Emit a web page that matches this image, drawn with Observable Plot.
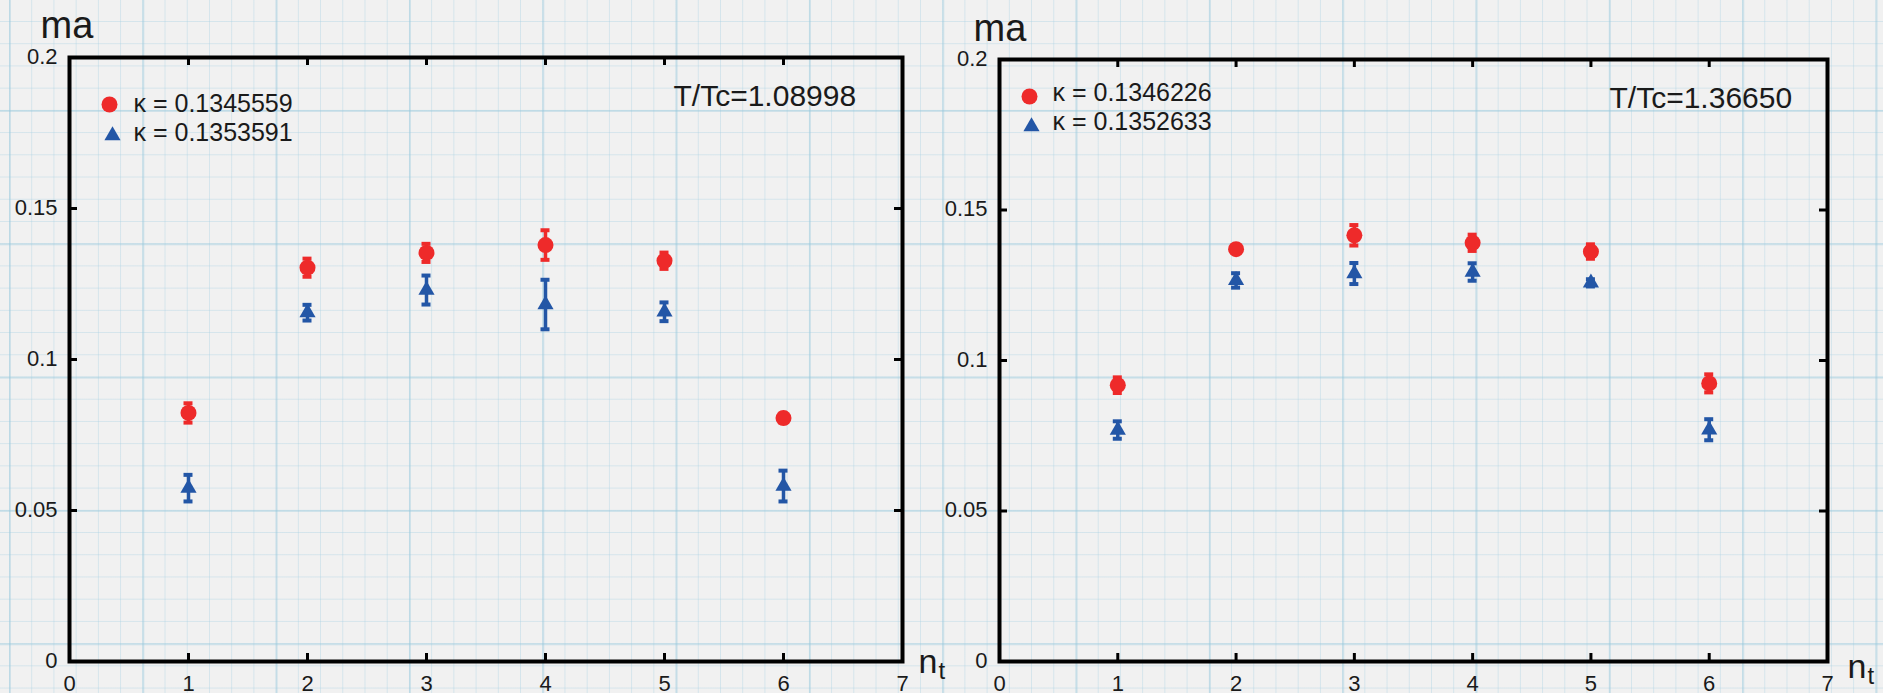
<!DOCTYPE html>
<html>
<head>
<meta charset="utf-8">
<script src="https://cdn.jsdelivr.net/npm/d3@7"></script>
<script src="https://cdn.jsdelivr.net/npm/@observablehq/plot@0.6"></script>
<style>
html, body { margin: 0; padding: 0; }
body {
  width: 1883px; height: 693px; overflow: hidden; position: relative;
  background-color: #f1f1f1;
  background-image:
    linear-gradient(to right, rgba(150, 200, 220, 0.38) 2px, transparent 2px),
    linear-gradient(to bottom, rgba(150, 200, 220, 0.38) 2px, transparent 2px),
    linear-gradient(to right, rgba(160, 205, 225, 0.35) 1px, transparent 1px),
    linear-gradient(to bottom, rgba(160, 205, 225, 0.35) 1px, transparent 1px);
  background-size: 133.33px 133.33px, 133.33px 133.33px, 22.22px 22.22px, 22.22px 22.22px;
  background-position: 9px 0, 0 110px, 9px 0, 0 21px;
}
.panel { position: absolute; top: 0; }
#left { left: 0; }
#right { left: 941px; }
</style>
</head>
<body>
<div id="left" class="panel"></div>
<div id="right" class="panel"></div>
<script>
// ---- data ----
const nt = [1, 2, 3, 4, 5, 6];
const xTicks = [0, 1, 2, 3, 4, 5, 6, 7];
const xTickLabels = ["0", "1", "2", "3", "4", "5", "6", "7"];
const xInnerTicks = [1, 2, 3, 4, 5, 6];
const yTicks = [0, 0.05, 0.1, 0.15, 0.2];
const yTickLabels = ["0", "0.05", "0.1", "0.15", "0.2"];
const yInnerTicks = [0.05, 0.1, 0.15];

// left panel: T/Tc = 1.08998
const leftTemp = "T/Tc=1.08998";
const leftKappa = ["κ = 0.1345559", "κ = 0.1353591"];
const leftRed = [0.0823, 0.1304, 0.1353, 0.1379, 0.1327, 0.0806];
const leftRedErr = [0.0032, 0.0030, 0.0030, 0.0049, 0.0027, 0.0015];
const leftBlue = [0.0574, 0.1155, 0.1230, 0.1182, 0.1158, 0.0581];
const leftBlueErr = [0.0044, 0.0026, 0.0048, 0.0082, 0.0031, 0.0051];

// right panel: T/Tc = 1.36650
const rightTemp = "T/Tc=1.36650";
const rightKappa = ["κ = 0.1346226", "κ = 0.1352633"];
const rightRed = [0.0918, 0.1370, 0.1416, 0.1391, 0.1362, 0.0924];
const rightRedErr = [0.0026, 0.0012, 0.0034, 0.0027, 0.0024, 0.0030];
const rightBlue = [0.0769, 0.1266, 0.1289, 0.1294, 0.1258, 0.0770];
const rightBlueErr = [0.0029, 0.0024, 0.0035, 0.0029, 0.0012, 0.0035];

const yLabel = "ma";
const xLabel = "n";
const xLabelSub = "t";

const RED = "#ee2a2a";
const BLUE = "#2356a6";
const INK = "#1a1a1a";
const FONT = "'Liberation Sans', Arial, Helvetica, sans-serif";

function panel(cfg) {
  const H = 693;
  const innerW = cfg.width - cfg.mL - cfg.mR;
  const innerH = H - cfg.mT - cfg.mB;
  const series = [
    {name: cfg.kappa[0], values: cfg.red, errs: cfg.redErr, color: RED, symbol: "circle", r: 8},
    {name: cfg.kappa[1], values: cfg.blue, errs: cfg.blueErr, color: BLUE, symbol: "triangle", r: 6}
  ];
  const marks = [];
  series.forEach((s, si) => {
    const rows = nt.map((n, i) => ({n, v: s.values[i], e: s.errs[i]}));
    marks.push(
      Plot.ruleX(rows, {x: "n", y1: d => d.v - d.e, y2: d => d.v + d.e, stroke: s.color, strokeWidth: 3.5}),
      Plot.ruleY(rows, {y: d => d.v + d.e, x1: "n", x2: "n", insetLeft: -4.5, insetRight: -4.5, stroke: s.color, strokeWidth: 4}),
      Plot.ruleY(rows, {y: d => d.v - d.e, x1: "n", x2: "n", insetLeft: -4.5, insetRight: -4.5, stroke: s.color, strokeWidth: 4}),
      Plot.dot(rows, {x: "n", y: "v", fill: s.color, stroke: "none", r: s.r, symbol: s.symbol})
    );
    const L = cfg.legend[si];
    marks.push(
      Plot.dot([s.name], {frameAnchor: "top-left", dx: L.sx, dy: L.sy, r: s.r, symbol: s.symbol, fill: s.color, stroke: "none"}),
      Plot.text([s.name], {frameAnchor: "top-left", dx: cfg.legendTextDx, dy: L.ty, text: d => d,
        textAnchor: "start", lineAnchor: "bottom", fontSize: 25, fill: INK})
    );
  });
  marks.push(
    Plot.frame({stroke: "black", strokeWidth: 4}),
    Plot.tickX(xInnerTicks, {x: d => d, insetTop: innerH - 8, stroke: "black", strokeWidth: 3}),
    Plot.tickX(xInnerTicks, {x: d => d, insetBottom: innerH - 8, stroke: "black", strokeWidth: 3}),
    Plot.tickY(yInnerTicks, {y: d => d, insetRight: innerW - 8, stroke: "black", strokeWidth: 3}),
    Plot.tickY(yInnerTicks, {y: d => d, insetLeft: innerW - 8, stroke: "black", strokeWidth: 3}),
    Plot.text(yTicks, {y: d => d, text: (d, i) => yTickLabels[i], frameAnchor: "left", textAnchor: "end",
      lineAnchor: "middle", dx: -12, dy: -1, fontSize: 22, fill: INK}),
    Plot.text(xTicks, {x: d => d, text: (d, i) => xTickLabels[i], frameAnchor: "bottom", textAnchor: "middle",
      lineAnchor: "top", dy: 14, fontSize: 22, fill: INK}),
    Plot.text([yLabel], {frameAnchor: "top-left", dx: cfg.maDx, dy: cfg.maDy, text: d => d,
      textAnchor: "start", lineAnchor: "bottom", fontSize: 38, fill: INK}),
    Plot.text([xLabel], {frameAnchor: "bottom-right", dx: cfg.nDx, dy: cfg.nDy, text: d => d,
      textAnchor: "start", lineAnchor: "bottom", fontSize: 34, fill: INK}),
    Plot.text([xLabelSub], {frameAnchor: "bottom-right", dx: cfg.nDx + 20, dy: cfg.nDy + 6, text: d => d,
      textAnchor: "start", lineAnchor: "bottom", fontSize: 24, fill: INK}),
    Plot.text([cfg.temp], {frameAnchor: "top-left", dx: cfg.tempDx, dy: cfg.tempDy, text: d => d,
      textAnchor: "start", lineAnchor: "bottom", fontSize: 30, fill: INK})
  );
  return Plot.plot({
    width: cfg.width, height: H,
    marginLeft: cfg.mL, marginRight: cfg.mR, marginTop: cfg.mT, marginBottom: cfg.mB,
    x: {domain: [0, 7], axis: null},
    y: {domain: [0, 0.2], axis: null},
    style: {background: "transparent", overflow: "visible", fontFamily: FONT, color: INK},
    marks
  });
}

document.getElementById("left").append(panel({
  width: 941, mL: 69, mR: 39, mT: 57, mB: 32,
  red: leftRed, redErr: leftRedErr, blue: leftBlue, blueErr: leftBlueErr,
  kappa: leftKappa, temp: leftTemp,
  legend: [{sx: 40, sy: 47, ty: 54}, {sx: 43, sy: 78, ty: 83}], legendTextDx: 64,
  maDx: -29, maDy: -20, nDx: 16, nDy: 11, tempDx: 604, tempDy: 48
}));
document.getElementById("right").append(panel({
  width: 942, mL: 58, mR: 56, mT: 59, mB: 32,
  red: rightRed, redErr: rightRedErr, blue: rightBlue, blueErr: rightBlueErr,
  kappa: rightKappa, temp: rightTemp,
  legend: [{sx: 30, sy: 37, ty: 41}, {sx: 32, sy: 67, ty: 70}], legendTextDx: 53,
  maDx: -26, maDy: -19, nDx: 20, nDy: 16, tempDx: 610, tempDy: 48
}));
</script>
</body>
</html>
